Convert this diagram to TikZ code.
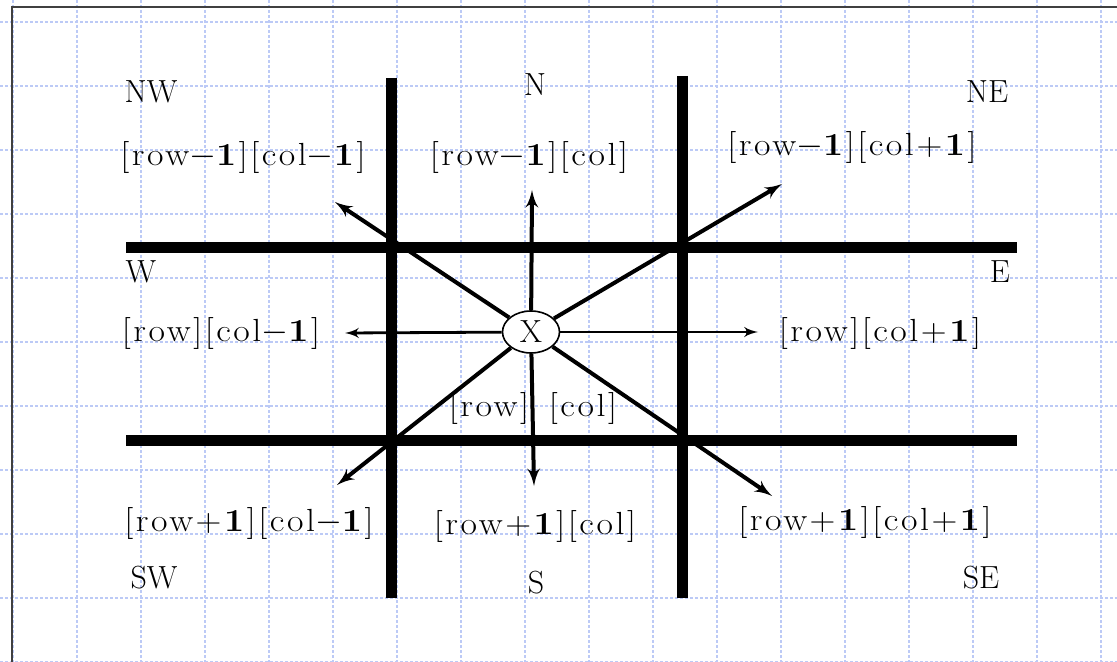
\documentclass[tikz,border=0pt]{standalone}
\usepackage{amsmath}
\usepackage{fontspec}
\usepackage{tikz}
\usetikzlibrary{arrows}
\usetikzlibrary{shapes.geometric}
\newfontfamily\lblfont{Latin Modern Roman}[FakeStretch = 1.12, LetterSpace = 8]
\definecolor{gridblue}{RGB}{188,202,246}
\newcommand{\one}{\textbf{1}}
\tikzset{gridline/.style = {draw = gridblue, line width = 0.8pt, dash pattern = on 1.5pt off 1pt}}
\tikzset{wall/.style = {line width = 5.5pt}}
\tikzset{cell/.style = {shape = ellipse, draw, fill = white, line width = 0.8pt, minimum width = 28.5pt, minimum height = 21pt, inner sep = 0pt, font = \fontsize{16}{19}\selectfont}}
\tikzset{dir/.style = {inner sep = 0pt, font = \fontsize{16}{19}\selectfont}}
\tikzset{txt/.style = {inner sep = 0pt, font = \lblfont\fontsize{16}{19}\selectfont}}
\tikzset{edge/.style = {->,> = latex', line width = 2pt}}
\tikzset{thinedge/.style = {->,> = latex', line width = 1.4pt}}

\begin{document}
\begin{tikzpicture}[x = 0.5pt, y = -0.5pt]
			\useasboundingbox (0, 0) rectangle (1117, 662);
			\foreach \gx in {13, 77, ..., 1101}
				\draw[gridline] (\gx, 0) -- (\gx, 662);
			\foreach \gy in {22, 86, ..., 662}
				\draw[gridline] (0, \gy) -- (1117, \gy);
			\draw[line width = 1pt, black!75] (12, 662) -- (12, 7) -- (1117, 7);

			\draw[wall] (391, 78) -- (391, 598);
			\draw[wall] (682, 76) -- (682, 598);
			\draw[wall] (126, 248) -- (1017, 248);
			\draw[wall] (126, 440) -- (1017, 440);

			\node[dir] (nw) at (151, 92) {NW};
			\node[dir] (n) at (535, 85) {N};
			\node[dir] (ne) at (987, 92) {NE};
			\node[dir] (w) at (141, 272) {W};
			\node[dir] (e) at (1000, 272) {E};
			\node[dir] (sw) at (154, 578) {SW};
			\node[dir] (s) at (536, 583) {S};
			\node[dir] (se) at (981, 578) {SE};

			\node[txt] (a) at (243, 158) {[row$-$\one][col$-$\one]};
			\node[txt] (b) at (529, 158) {[row$-$\one][col]};
			\node[txt] (c) at (852, 148) {[row$-$\one][col+\one]};
			\node[txt] (d) at (221, 334) {[row][col$-$\one]};
			\node[txt] (f) at (880, 334) {[row][col+\one]};
			\node[txt] (g) at (489, 408) {[row]};
			\node[txt] (h) at (583, 408) {[col]};
			\node[txt] (i) at (249, 523) {[row+\one][col$-$\one]};
			\node[txt] (j) at (535, 526) {[row+\one][col]};
			\node[txt] (k) at (865, 522) {[row+\one][col+\one]};

			\node[cell] (x) at (531, 332) {X};

			\coordinate (tn) at (532, 190);
			\coordinate (ts) at (534, 486);
			\coordinate (tw) at (345, 333);
			\coordinate (te) at (758, 332);
			\coordinate (tnw) at (335, 202);
			\coordinate (tne) at (782, 184);
			\coordinate (tsw) at (337, 485);
			\coordinate (tse) at (772, 496);

			\draw[edge] (x) to (tn);
			\draw[edge] (x) to (ts);
			\draw[thinedge] (x) to (tw);
			\draw[thinedge] (x) to (te);
			\draw[edge] (x) to (tnw);
			\draw[edge] (x) to (tne);
			\draw[edge] (x) to (tsw);
			\draw[edge] (x) to (tse);
		\end{tikzpicture}
\end{document}
